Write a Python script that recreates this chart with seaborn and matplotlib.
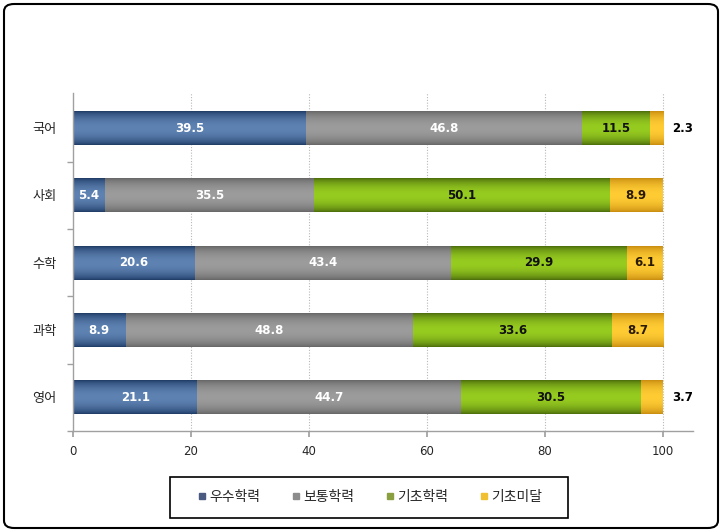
import numpy as np
import pandas as pd
import matplotlib
matplotlib.use("Agg")
import matplotlib.pyplot as plt
import seaborn as sns
from matplotlib.patches import FancyBboxPatch, Rectangle
from matplotlib.lines import Line2D
from matplotlib.colors import to_rgb

subjects = ["국어", "사회", "수학", "과학", "영어"]
levels = ["우수학력", "보통학력", "기초학력", "기초미달"]
excellent = [39.5, 5.4, 20.6, 8.9, 21.1]
normal = [46.8, 35.5, 43.4, 48.8, 44.7]
basic = [11.5, 50.1, 29.9, 33.6, 30.5]
below = [2.3, 8.9, 6.1, 8.7, 3.7]
xticks = [0, 20, 40, 60, 80, 100]

series = [excellent, normal, basic, below]
base_colors = ["#3F6596", "#8A8A8A", "#86BE16", "#F5BC1C"]
edge_colors = ["#1E3B66", "#666666", "#4C6C0C", "#C88C10"]
center_colors = ["#5E82B2", "#9C9C9C", "#96CC20", "#FFCC34"]
label_colors = ["white", "white", "#111111", "#2A1A00"]
legend_colors = ["#4A5A80", "#8C8C8C", "#8AA040", "#F0C030"]

sns.set_theme(style="white")
plt.rcParams["font.family"] = ["Noto Sans CJK KR", "DejaVu Sans"]

fig = plt.figure(figsize=(7.22, 5.32), dpi=100)
ax = fig.add_axes([73 / 722, 1 - 431 / 532, 620 / 722, 338 / 532])

df = pd.DataFrame({"subject": subjects})
lefts = np.zeros(len(subjects))
for i, (lvl, vals) in enumerate(zip(levels, series)):
    df[lvl] = vals
    sns.barplot(data=df, x=lvl, y="subject", orient="h", left=lefts.copy(),
                color=base_colors[i], width=0.5, saturation=1, ax=ax,
                linewidth=0, zorder=2)
    lefts = lefts + np.array(vals)

# gradient overlay on each bar segment
n = 64
t = np.linspace(0, 1, n)
w = np.sin(np.pi * t) ** 0.7
patches = list(ax.patches)
per = len(subjects)
for k, p in enumerate(patches):
    i = k // per
    e = np.array(to_rgb(edge_colors[i]))
    c = np.array(to_rgb(center_colors[i]))
    arr = (e[None, :] * (1 - w[:, None]) + c[None, :] * w[:, None])[:, None, :]
    x0, y0, pw, ph = p.get_x(), p.get_y(), p.get_width(), p.get_height()
    ax.imshow(arr, extent=[x0, x0 + pw, y0 + ph, y0], aspect="auto",
              interpolation="bilinear", zorder=2.5)

# value labels
lefts = np.zeros(len(subjects))
for i, vals in enumerate(series):
    for j, v in enumerate(vals):
        if i == 3 and v < 5:
            ax.text(lefts[j] + v + 1.5, j, f"{v}", ha="left", va="center",
                    fontsize=8.5, fontweight="bold", color="black",
                    family="DejaVu Sans", zorder=5)
        else:
            ax.text(lefts[j] + v / 2, j, f"{v}", ha="center", va="center",
                    fontsize=8.5, fontweight="bold", color=label_colors[i],
                    family="DejaVu Sans", zorder=5)
    lefts = lefts + np.array(vals)

ax.set_xlim(0, 620 / 5.9)
ax.set_ylim(4.5, -0.52)
ax.set_xticks(xticks)
ax.set_xticklabels([str(x) for x in xticks], fontsize=8.5, family="DejaVu Sans")
ax.set_yticks(range(len(subjects)))
ax.set_yticklabels(subjects, fontsize=9.5)
ax.set_yticks([0.5, 1.5, 2.5, 3.5, 4.5], minor=True)
ax.tick_params(axis="y", which="major", length=0, pad=12)
ax.tick_params(axis="y", which="minor", length=4, color="#A0A0A0", left=True)
ax.tick_params(axis="x", which="major", length=4, color="#A0A0A0", bottom=True, pad=6)
ax.set_xlabel("")
ax.set_ylabel("")
for x in xticks[1:]:
    ax.axvline(x, color="#B8B8B8", lw=0.8, ls=(0, (1, 1.5)), zorder=1)
for s in ["top", "right"]:
    ax.spines[s].set_visible(False)
for s in ["left", "bottom"]:
    ax.spines[s].set_color("#A0A0A0")
    ax.spines[s].set_linewidth(1.0)

# legend
handles = [Line2D([0], [0], marker="s", ls="", markersize=4, color=c) for c in legend_colors]
fig.legend(handles, levels, loc="center", bbox_to_anchor=(370 / 722, 1 - 497 / 532),
           ncol=4, frameon=False, fontsize=10, handlelength=0.6, handletextpad=0.2,
           columnspacing=2.3)
fig.patches.append(Rectangle((170 / 722, 1 - 518 / 532), 398 / 722, 41 / 532,
                             transform=fig.transFigure, fill=False, edgecolor="black",
                             lw=1.2, zorder=10))
# outer rounded border
fig.patches.append(FancyBboxPatch((4 / 722, 4 / 532), 714 / 722, 524 / 532,
                                  boxstyle="round,pad=0,rounding_size=0.014",
                                  transform=fig.transFigure, fill=False,
                                  edgecolor="black", lw=1.5, zorder=10))

fig.savefig("out.png", dpi=100)
